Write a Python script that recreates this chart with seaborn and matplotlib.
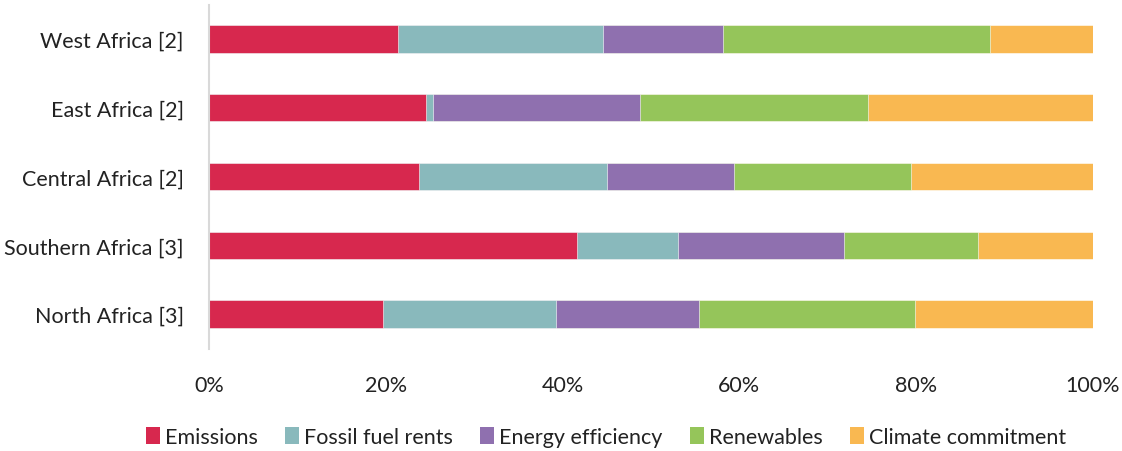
import matplotlib
matplotlib.use("Agg")
import matplotlib.pyplot as plt
import seaborn as sns
import numpy as np
import pandas as pd
from matplotlib.patches import Patch
from matplotlib.ticker import PercentFormatter

regions = ["West Africa [2]", "East Africa [2]", "Central Africa [2]",
           "Southern Africa [3]", "North Africa [3]"]
series = ["Emissions", "Fossil fuel rents", "Energy efficiency",
          "Renewables", "Climate commitment"]
emissions = [21.4, 24.5, 23.8, 41.6, 19.7]
fossil_fuel_rents = [23.2, 0.8, 21.2, 11.4, 19.6]
energy_efficiency = [13.5, 23.4, 14.4, 18.8, 16.1]
renewables = [30.3, 25.8, 20.0, 15.2, 24.5]
climate_commitment = [11.6, 25.5, 20.6, 13.0, 20.1]
colors = ["#D7284E", "#89B9BC", "#8F70AF", "#95C55A", "#F9B851"]

sns.set_theme(style="white")
plt.rcParams["font.family"] = ["Lato", "DejaVu Sans"]

values = np.array([emissions, fossil_fuel_rents, energy_efficiency,
                   renewables, climate_commitment])
cumulative = np.cumsum(values, axis=0)

fig = plt.figure(figsize=(11.22, 4.52), dpi=100)
ax = fig.add_axes([209 / 1122, 1 - 349.5 / 452, 884 / 1122, 344 / 452])

# Stacked bars: draw the longest cumulative totals first, then overlay shorter ones
for i in range(len(series) - 1, -1, -1):
    df = pd.DataFrame({"region": regions, "value": cumulative[i]})
    sns.barplot(data=df, x="value", y="region", orient="h", color=colors[i],
                saturation=1, width=0.4, ax=ax, edgecolor="white", linewidth=0.4)

ax.set_xlim(0, 100)
ax.set_ylim(4.5, -0.5)
ax.set_xticks([0, 20, 40, 60, 80, 100])
ax.xaxis.set_major_formatter(PercentFormatter(decimals=0))
ax.set_xlabel("")
ax.set_ylabel("")
ax.tick_params(axis="x", length=0, pad=19, labelsize=15.5, colors="#222222")
ax.tick_params(axis="y", length=0, pad=18, labelsize=15.5, colors="#222222")
for s in ["top", "right", "bottom"]:
    ax.spines[s].set_visible(False)
ax.spines["left"].set_color("#D9D9D9")
ax.spines["left"].set_linewidth(1.5)

handles = [Patch(facecolor=c, edgecolor="none") for c in colors]
fig.legend(handles, series, loc="center", bbox_to_anchor=(0.540, 1 - 438 / 452),
           ncol=5, frameon=False, fontsize=15.5, handlelength=0.65, handleheight=0.85,
           handletextpad=0.25, columnspacing=1.25, labelcolor="#222222")

fig.savefig("out.png", dpi=100)
